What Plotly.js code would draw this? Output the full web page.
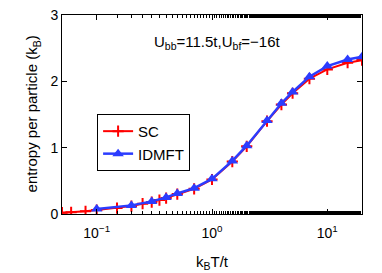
<!DOCTYPE html>
<html>
<head>
<meta charset="utf-8">
<script src="https://cdn.plot.ly/plotly-3.0.1.min.js"></script>
<style>html,body{margin:0;padding:0;background:#fff;}#chart{width:382px;height:273px;}</style>
</head>
<body>
<div id="chart"></div>
<script>
const scT = [0.05,0.06,0.08,0.1,0.15,0.2,0.25,0.3,0.35,0.4,0.5,0.7,1,1.5,2,3,4,5,7,10,15,20];
const scS = [0.02,0.025,0.04,0.06,0.09,0.12,0.155,0.18,0.21,0.24,0.30,0.38,0.52,0.79,1.02,1.40,1.65,1.82,2.04,2.18,2.28,2.32];
const idT = [0.1,0.2,0.3,0.4,0.5,0.7,1,1.5,2,3,4,5,7,10,15,20];
const idS = [0.075,0.13,0.19,0.25,0.31,0.39,0.53,0.80,1.03,1.41,1.67,1.84,2.07,2.23,2.33,2.37];
const xTickVals = [0.1,1,10];
const xTickText = ['10<sup>−1</sup>','10<sup>0</sup>','10<sup>1</sup>'];
const yTickVals = [0,1,2,3];

const fam = '"Liberation Sans", Arial, sans-serif';
const traces = [
  {x:scT, y:scS, name:'SC', type:'scatter', mode:'lines+markers',
   line:{color:'#ff0000', width:2},
   marker:{symbol:'cross-thin', size:8, line:{color:'#ff0000', width:2}, color:'#ff0000'}},
  {x:idT, y:idS, name:'IDMFT', type:'scatter', mode:'lines+markers',
   line:{color:'#2b3cff', width:2.5},
   marker:{symbol:'triangle-up', size:10, color:'#2b3cff'}}
];
const layout = {
  width:382, height:273,
  margin:{l:62, r:20, t:15, b:59},
  paper_bgcolor:'#fff', plot_bgcolor:'#fff',
  font:{family:fam, size:14, color:'#000'},
  showlegend:true,
  legend:{x:0.117, y:0.503, xanchor:'left', yanchor:'top', bordercolor:'#000', borderwidth:1,
          bgcolor:'#fff', font:{family:fam, size:15, color:'#000'}, tracegroupgap:0},
  xaxis:{type:'log', range:[Math.log10(0.05), Math.log10(20)],
         tickvals:xTickVals, ticktext:xTickText, ticks:'inside', ticklen:5, tickcolor:'#000',
         ticklabelstandoff:6,
         minor:{ticks:'inside', ticklen:3, tickcolor:'#000', showgrid:false},
         showline:true, linecolor:'#000', linewidth:1, mirror:'allticks', showgrid:false, zeroline:false,
         tickfont:{family:fam, size:14, color:'#000'},
         title:{text:'k<sub>B</sub>T/t', font:{family:fam, size:15, color:'#000'}, standoff:16}},
  yaxis:{range:[0,3], tickvals:yTickVals, ticks:'inside', ticklen:5, tickcolor:'#000',
         showline:true, linecolor:'#000', linewidth:1, mirror:'allticks', showgrid:false, zeroline:false,
         tickfont:{family:fam, size:14, color:'#000'},
         title:{text:''}},
  annotations:[
    {xref:'paper', yref:'y', x:0.517, y:2.58, showarrow:false,
     text:'U<sub>bb</sub>=11.5t,U<sub>bf</sub>=−16t',
     font:{family:fam, size:15, color:'#000'}},
    {xref:'paper', yref:'paper', x:-0.097, y:0.505, showarrow:false, textangle:-90,
     xanchor:'center', yanchor:'middle',
     text:'entropy per particle (k<sub>B</sub>)',
     font:{family:fam, size:15, color:'#000'}}
  ]
};
Plotly.newPlot('chart', traces, layout, {staticPlot:true, displayModeBar:false});
</script>
</body>
</html>
